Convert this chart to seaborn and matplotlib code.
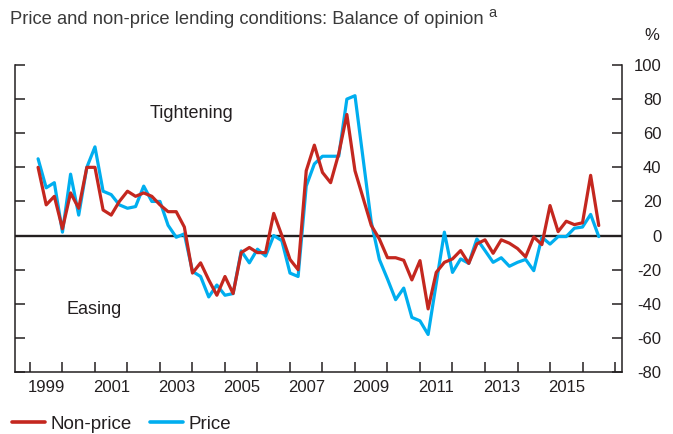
import numpy as np
import pandas as pd
import matplotlib
matplotlib.use("Agg")
import matplotlib.pyplot as plt
import seaborn as sns
from matplotlib.lines import Line2D

# Quarterly data, 1999 Q2 .. 2016 Q3
start_year = 1999.25
non_price = [40, 18, 23, 4, 25, 16, 40, 40, 15, 12,
             20, 26, 23, 25, 23, 18, 14, 14, 5, -22,
             -16, -26, -35, -24, -34, -10, -7, -10, -10, 13,
             0, -14, -20, 38, 53, 37, 31, 48, 71, 38,
             22, 6, -2, -13, -13, -14.5, -26, -14.7, -43, -21.6,
             -15.7, -13.7, -8.8, -16.3, -4.9, -2.5, -10.4, -2.5, -4.5, -7.6,
             -12.5, -0.8, -5.3, 17.6, 2.3, 8.4, 6.4, 7.5, 35.3, 5.9]
price = [45, 28, 31, 2, 36, 12, 40, 52, 26, 24,
         18, 16, 17, 29, 20, 20, 6, -1, 1, -21,
         -24, -36, -29, -35, -34, -9, -16, -8, -12, 0,
         -3, -22, -24, 29, 42, 46.5, 46.5, 46.5, 80, 82,
         45, 8, -14, -25.5, -37.6, -30.8, -48, -50, -58, -28,
         2, -21.6, -13.7, -16.3, -2, -8.8, -15.7, -13, -18, -15.7,
         -14, -20.6, -1, -5, -0.6, -0.6, 4.3, 5, 12.4, -0.6]
series_names = ["Non-price", "Price"]
series_colors = ["#C4271F", "#00AEEF"]
year_ticks = list(range(1999, 2018))
year_labels = [str(y) for y in range(1999, 2016, 2)]
y_ticks = list(range(-80, 101, 20))

n = len(non_price)
dates = [start_year + 0.25 * i for i in range(n)]
df = pd.DataFrame({
    "date": dates * 2,
    "value": non_price + price,
    "series": [series_names[0]] * n + [series_names[1]] * n,
})

sns.set_theme(style="white")
plt.rcParams["font.family"] = ["Liberation Sans", "DejaVu Sans"]
plt.rcParams["axes.unicode_minus"] = False

W, H = 673, 434
txt_c = "#231F20"
fig = plt.figure(figsize=(W / 100, H / 100), dpi=100)
ax = fig.add_axes([15 / W, 1 - 372 / H, (622 - 15) / W, (372 - 65) / H])

ax.axhline(0, color=txt_c, lw=1.7, zorder=1)
sns.lineplot(data=df, x="date", y="value", hue="series",
             hue_order=[series_names[1], series_names[0]],
             palette={series_names[0]: series_colors[0], series_names[1]: series_colors[1]},
             lw=2.3, ax=ax, legend=False, zorder=3)

ax.set_xlim(1998.54, 2017.215)
ax.set_ylim(-80, 100)
ax.set_xlabel("")
ax.set_ylabel("")

ax.spines["top"].set_visible(False)
for s in ["left", "right", "bottom"]:
    ax.spines[s].set_visible(True)
    ax.spines[s].set_color(txt_c)
    ax.spines[s].set_linewidth(1.1)

# x ticks: year boundaries, labels mid-year
ax.set_xticks(year_ticks)
ax.set_xticklabels([])
ax.set_xticks([int(y) + 0.5 for y in year_labels], minor=True)
ax.set_xticklabels(year_labels, minor=True)
ax.tick_params(axis="x", which="major", direction="in", length=7, width=1.1,
               color=txt_c, bottom=True)
ax.tick_params(axis="x", which="minor", length=0, pad=6, labelsize=12,
               labelcolor=txt_c, bottom=True)

# y ticks: both sides inward, labels on right (right-aligned)
ax.set_yticks(y_ticks)
ax.set_yticklabels([str(v) for v in y_ticks])
ax.tick_params(axis="y", direction="in", length=7, width=1.1, color=txt_c,
               left=True, right=True, labelleft=False, labelright=True,
               pad=28.5, labelsize=12, labelcolor=txt_c)
for t in ax.yaxis.get_major_ticks():
    t.label2.set_horizontalalignment("right")

fig.text(192 / W, 1 - 114 / H, "Tightening", ha="center", va="center",
         fontsize=13, color=txt_c)
fig.text(94 / W, 1 - 310 / H, "Easing", ha="center", va="center",
         fontsize=13, color=txt_c)

fig.text(10 / W, 1 - 19 / H, "Price and non-price lending conditions: Balance of opinion",
         ha="left", va="center", fontsize=13.2, color="#3a3a3a")
fig.text(488 / W, 1 - 13 / H, "a", ha="left", va="center", fontsize=10.5,
         color="#3a3a3a")
fig.text(652 / W, 1 - 36 / H, "%", ha="center", va="center", fontsize=12,
         color=txt_c)

# Legend
handles = [Line2D([0], [0], color=series_colors[0], lw=2.6),
           Line2D([0], [0], color=series_colors[1], lw=2.6)]
fig.legend(handles, series_names, loc="center left",
           bbox_to_anchor=(12 / W, 1 - 424 / H), ncol=2, frameon=False,
           fontsize=13.5, handlelength=1.75, handletextpad=0.3,
           columnspacing=1.0, borderaxespad=0, borderpad=0,
           labelcolor=txt_c)

fig.savefig("out.png", dpi=100)
